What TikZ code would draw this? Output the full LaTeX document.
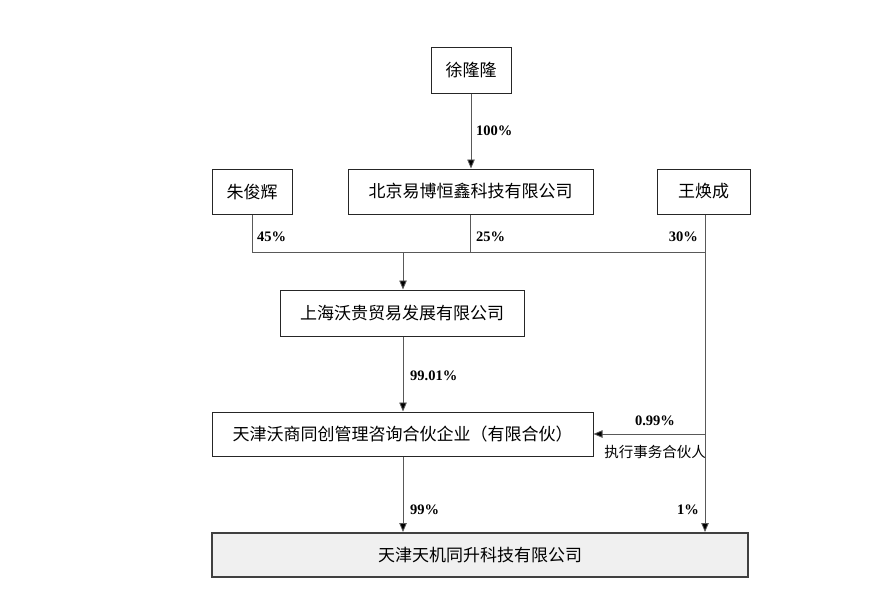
\documentclass[tikz,border=0pt]{standalone}
\usepackage{fontspec}
\setmainfont{Liberation Serif}
\newfontfamily\cjk{Noto Sans CJK SC}
\usetikzlibrary{arrows.meta}
\begin{document}
\begin{tikzpicture}[x=1pt,y=-1pt,
  ent/.style={draw=black!85,line width=1pt,inner sep=0pt,font=\cjk\fontsize{17}{18}\selectfont},
  link/.style={draw=black!65,line width=0.8pt},
  arr/.style={link,-{Triangle[length=9pt,width=7.5pt,fill=black]}},
  pct/.style={font=\bfseries\fontsize{14.5}{16}\selectfont,inner sep=0pt},
  note/.style={font=\cjk\fontsize{14.5}{16}\selectfont,inner sep=0pt}]
\useasboundingbox (0,0) rectangle (889,605);
\node[ent,minimum width=80pt,minimum height=46pt] (xu) at (471,70) {徐隆隆};
\node[ent,minimum width=80pt,minimum height=45pt] (zhu) at (252,191.5) {朱俊辉};
\node[ent,minimum width=245pt,minimum height=45pt] (bj) at (470.5,191.5) {北京易博恒鑫科技有限公司};
\node[ent,minimum width=93pt,minimum height=45pt] (wang) at (703.5,191.5) {王焕成};
\node[ent,minimum width=244pt,minimum height=46pt] (sh) at (402,313) {上海沃贵贸易发展有限公司};
\node[ent,minimum width=381pt,minimum height=44pt] (tjw) at (402.5,434) {天津沃商同创管理咨询合伙企业（有限合伙）};
\node[ent,draw=black!75,line width=2pt,fill=black!6,minimum width=536pt,minimum height=44pt] (tjt) at (480,555) {天津天机同升科技有限公司};
\coordinate (j1) at (252,252);
\coordinate (j2) at (705,252);
\coordinate (jm) at (403,252);
\coordinate (jr) at (705,434);
\draw[arr] (xu.south) -- (xu.south |- bj.north);
\draw[link] (zhu.south) -- (j1) -- (j2);
\draw[link] (bj.south) -- (bj.south |- j1);
\draw[link] (wang.south -| j2) -- (j2);
\draw[arr] (jm) -- (jm |- sh.north);
\draw[arr] (sh.south -| jm) -- (jm |- tjw.north);
\draw[link] (j2) -- (jr);
\draw[arr] (jr) -- (tjw.east |- jr);
\draw[arr] (jr) -- (j2 |- tjt.north);
\draw[arr] (tjw.south -| jm) -- (jm |- tjt.north);
\node[pct,anchor=west] (p100) at (476,131) {100\%};
\node[pct,anchor=west] (p45) at (257,237) {45\%};
\node[pct,anchor=west] (p25) at (476,237) {25\%};
\node[pct,anchor=east] (p30) at (698,237) {30\%};
\node[pct,anchor=west] (p9901) at (410,376) {99.01\%};
\node[pct] (p099) at (655,421) {0.99\%};
\node[note,anchor=east] (exec) at (706,452) {执行事务合伙人};
\node[pct,anchor=west] (p99) at (410,510) {99\%};
\node[pct,anchor=east] (p1) at (699,510) {1\%};
\end{tikzpicture}
\end{document}
